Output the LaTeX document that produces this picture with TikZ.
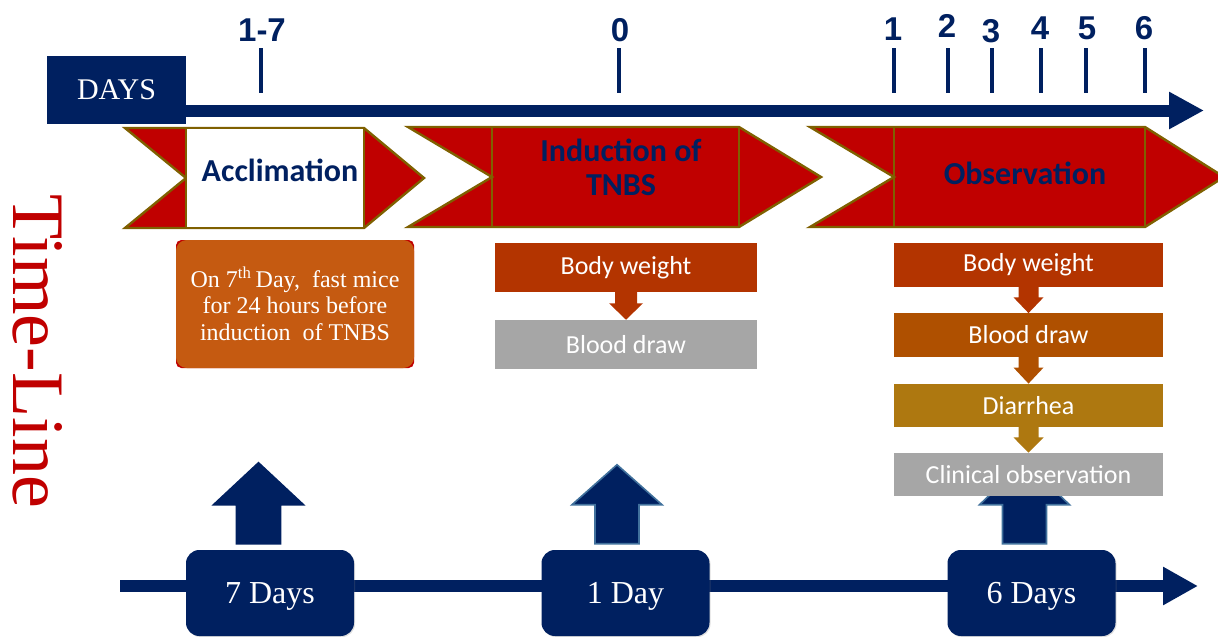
\documentclass[tikz,border=0pt]{standalone}
\usepackage{fontspec}
\setmainfont{Liberation Serif}
\newfontfamily\arialfont{Liberation Sans}
\newfontfamily\calibrifont{Carlito}
\usetikzlibrary{arrows.meta,calc,shadows}
\definecolor{navy}{RGB}{0,32,96}
\definecolor{chred}{RGB}{192,0,0}
\definecolor{olivebd}{RGB}{127,96,0}
\definecolor{orangebox}{RGB}{197,90,17}
\definecolor{bwred}{RGB}{179,52,0}
\definecolor{bdorange}{RGB}{175,80,0}
\definecolor{diarrh}{RGB}{174,120,16}
\definecolor{grayb}{RGB}{166,166,166}
\definecolor{outl}{RGB}{65,113,156}
\newcommand\blkdown[5]{%
  \fill[#3] let \p1=(#1.south), \p2=(#2.north), \n1={#4*0.75pt}, \n2={#5*0.75pt}, \n3={0.4*(\y1-\y2)} in
  (\x1-\n1,\y1+0.5pt) -- (\x1+\n1,\y1+0.5pt) -- (\x1+\n1,\y1-\n3) -- (\x1+\n2,\y1-\n3) -- (\x1,\y2) -- (\x1-\n2,\y1-\n3) -- (\x1-\n1,\y1-\n3) -- cycle;}
\newcommand\blkup[4]{%
  \begin{scope}[shift={(#1.north)}, xshift=#2*0.75pt]
    \filldraw[fill=navy, draw=#3, line width=1.2pt, line join=miter] (-22,-6) -- (22,-6) -- (22,-45) -- (45,-45) -- (0,#4) -- (-45,-45) -- (-22,-45) -- cycle;
  \end{scope}}
\begin{document}
\begin{tikzpicture}[x=0.75pt,y=-0.75pt,
  ticklab/.style={text=navy, inner sep=0, font=\arialfont\bfseries\fontsize{24.75}{28}\selectfont},
  chevtext/.style={text=navy, inner sep=0, align=center, font=\calibrifont\bfseries\fontsize{24}{25.5}\selectfont},
  chev/.style={fill=chred, draw=olivebd, line width=1.8pt, line join=miter},
  midbox/.style={minimum width=196.5pt, minimum height=36.75pt, inner sep=0, text=white, font=\calibrifont\fontsize{19.5}{22}\selectfont},
  rightbox/.style={minimum width=201.75pt, minimum height=32.5pt, inner sep=0, text=white, font=\calibrifont\fontsize{19.5}{22}\selectfont},
  daybox/.style={fill=navy, rounded corners=10pt, minimum width=126pt, minimum height=64.5pt, inner sep=0, text depth=0pt, text=white, font=\fontsize{24}{28}\selectfont, drop shadow={shadow xshift=0.8pt, shadow yshift=-0.8pt, opacity=0.25}}]
\useasboundingbox (0,0) rectangle (1218,636);

% top time axis
\node[fill=navy, minimum width=104.25pt, minimum height=51pt, inner sep=0, text=white, font=\fontsize{22.5}{26}\selectfont] (days) at (116.5,90) {DAYS};
\coordinate (topend) at (1204,110.5);
\draw[navy, line width=9pt, -{Triangle[length=26.25pt,width=26.25pt]}] (days.center |- topend) -- (topend);

\foreach \tx/\lx/\ly/\lab [count=\i] in {261/262/30/1-7, 619/620/30/0, 894/893/29/1, 948/947/26/2, 992/991/31/3, 1041/1040/28/4, 1086/1087/28/5, 1145/1144/28/6}{
  \node[ticklab] (lab\i) at (\lx,\ly) {\lab};
  \draw[navy, line width=3pt] (\tx,48) -- (\tx,93);
}

% chevrons
\path[chev] (125,128) -- (364,128) -- (424,178) -- (364,228) -- (125,228) -- (186,178) -- cycle;
\path[chev, fill=white] (186,128) rectangle (364,228);
\node[chevtext] (acc) at (280,170) {Acclimation};

\path[chev] (408,127) -- (739,127) -- (821,177) -- (739,227) -- (408,227) -- (492,177) -- cycle;
\draw[olivebd, line width=1.8pt] (492,127) -- (492,227) (739,127) -- (739,227);
\node[chevtext] (ind) at (621,167) {Induction of\\TNBS};

\path[chev] (810,127) -- (1145,127) -- (1224,177) -- (1145,227) -- (810,227) -- (894,177) -- cycle;
\draw[olivebd, line width=1.8pt] (894,127) -- (894,227) (1145,127) -- (1145,227);
\node[chevtext] (obs) at (1025,173) {Observation};

% Time-Line label
\node[rotate=-90, text=chred, inner sep=0, font=\fontsize{55.5}{60}\selectfont] (tl) at (38,351) {Time-Line};

% acclimation note
\fill[chred, rounded corners=4pt] (176,240) rectangle (414,368);
\node[fill=orangebox, rounded corners=8pt, minimum width=178.5pt, minimum height=96pt, inner sep=0, text=white, align=center, font=\fontsize{18}{20}\selectfont] (fast) at (295,304) {On 7\textsuperscript{th}\,Day,\ \ fast mice\\for 24 hours before\\induction\ \ of TNBS};

% bottom time line
\coordinate (bstart) at (120,586);
\coordinate (bend) at (1198,586);
\draw[navy, line width=9pt, -{Triangle[length=26.25pt,width=27pt]}] (bstart) -- (bend);
\node[daybox] (d7) at (270,593) {7 Days};
\node[daybox] (d1) at (625.5,593) {1 Day};
\node[daybox] (d6) at (1031.5,593) {6 Days};
\blkup{d7}{-11.5}{navy}{-87}
\blkup{d1}{-8.5}{outl}{-85}
\blkup{d6}{-7}{outl}{-88}

% middle column
\node[midbox, fill=bwred] (bw1) at (626,267.5) {Body weight};
\node[midbox, fill=grayb] (bd1) at (626,344.5) {Blood draw};
\blkdown{bw1}{bd1}{bwred}{11}{17}

% right column
\node[rightbox, fill=bwred] (bw2) at (1028.5,265) {Body weight};
\node[rightbox, fill=bdorange] (bd2) at (1028.5,335) {Blood draw};
\node[rightbox, fill=diarrh] (dia) at (1028.5,405.5) {Diarrhea};
\node[rightbox, fill=grayb] (clin) at (1028.5,474.5) {Clinical observation};
\blkdown{bw2}{bd2}{bwred}{10}{15}
\blkdown{bd2}{dia}{bdorange}{10}{15}
\blkdown{dia}{clin}{diarrh}{10}{15}
\end{tikzpicture}
\end{document}
